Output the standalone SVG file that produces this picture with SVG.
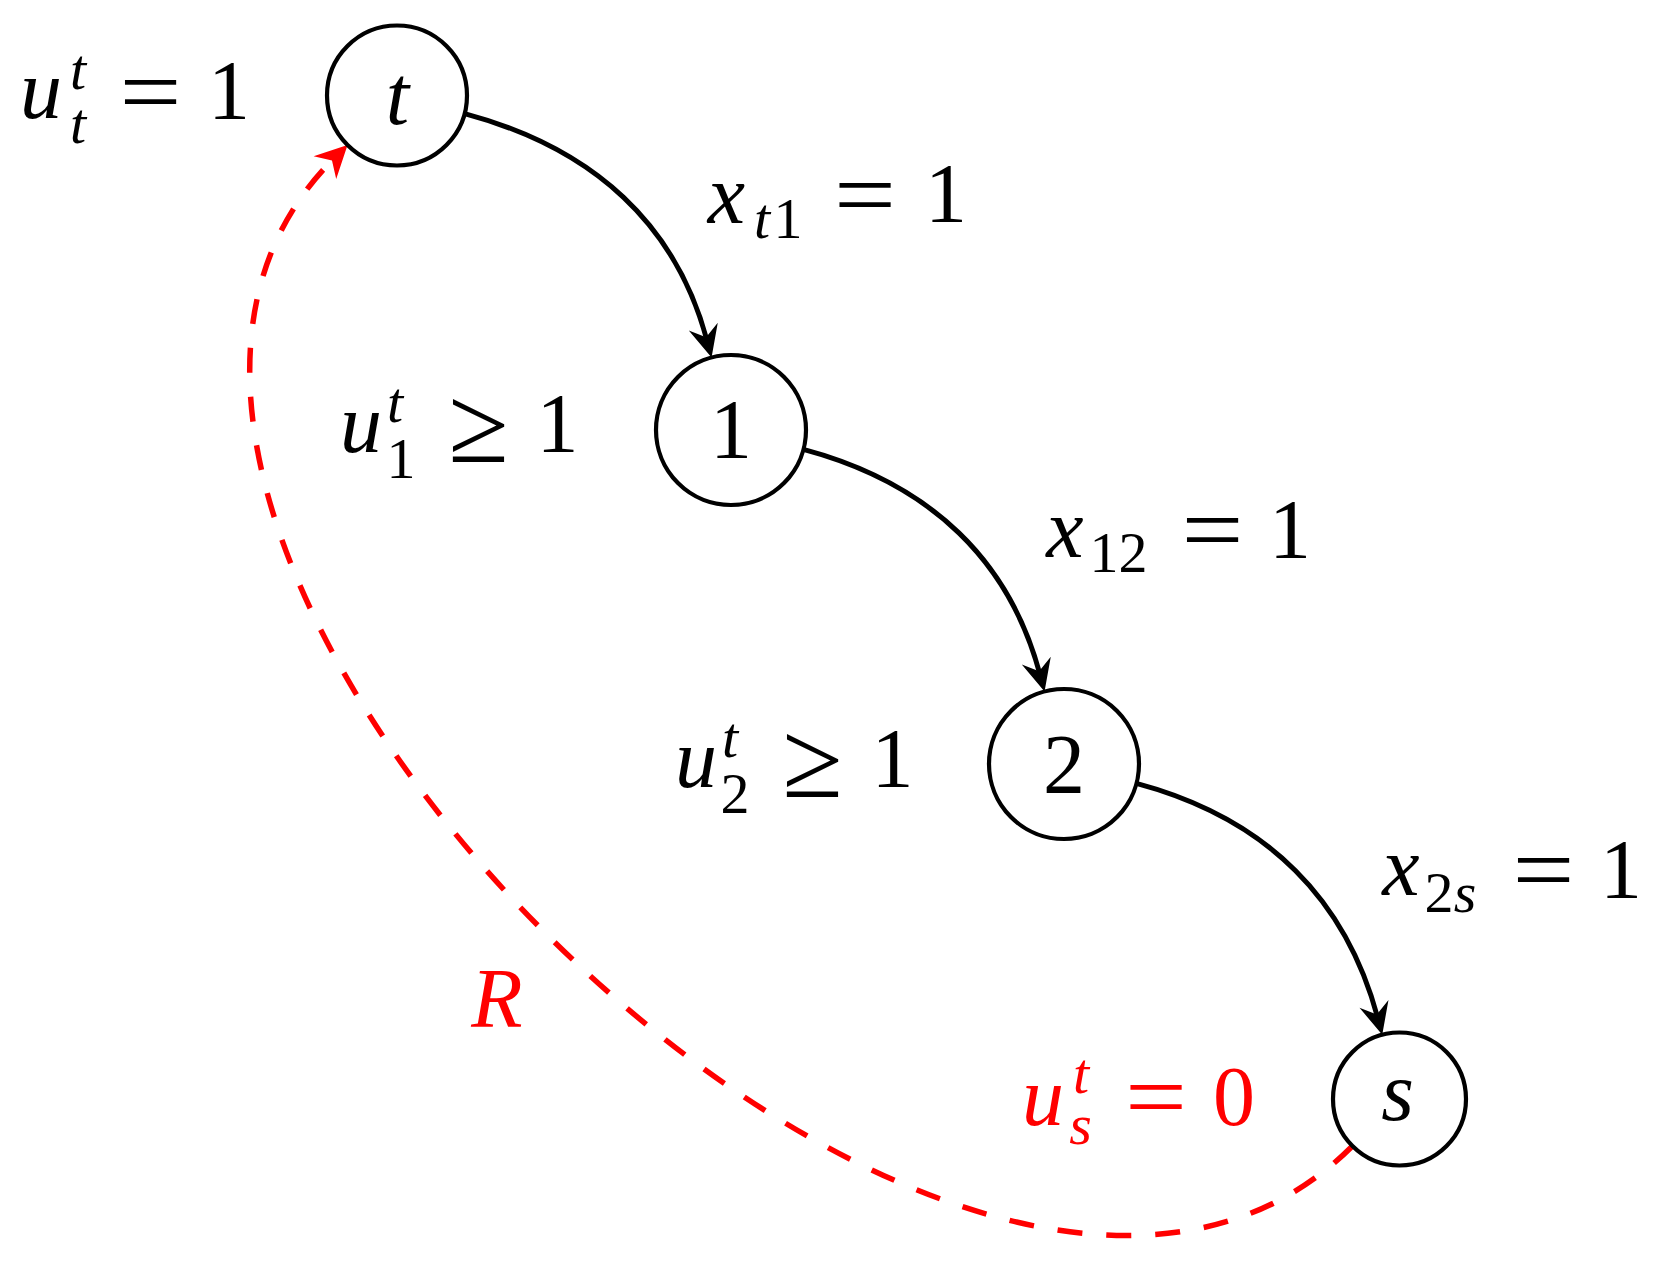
<svg xmlns="http://www.w3.org/2000/svg" width="1654" height="1265" viewBox="0 0 1654 1265">
<style>
text{font-family:"Liberation Serif","DejaVu Serif",serif;text-anchor:middle;fill:#000}
.i{font-style:italic}
.m{font-size:84px}
.s{font-size:58px}
.eq{font-size:96px}
.ge{font-size:110px}
.red{fill:#ff0000}
.node{fill:#fff;stroke:#000;stroke-width:4.2}
.edge{fill:none;stroke:#000;stroke-width:5}
.redge{fill:none;stroke:#ff0000;stroke-width:5.5;stroke-dasharray:25 24}
</style>
<defs>
<marker id="ab" markerUnits="userSpaceOnUse" viewBox="-34 -18 38 36" markerWidth="38" markerHeight="36" refX="-18" refY="0" orient="auto" overflow="visible">
<path d="M0 0 L-32 -15 L-21 0 L-32 15 Z" fill="#000"/>
</marker>
<marker id="ar" markerUnits="userSpaceOnUse" viewBox="-34 -18 38 36" markerWidth="38" markerHeight="36" refX="-20" refY="0" orient="auto" overflow="visible">
<path d="M0 0 L-32 -16 L-22 0 L-32 16 Z" fill="#ff0000"/>
</marker>
</defs>
<g id="connectors">
<path class="edge" d="M464.6 113.6 C595.9 148.8 676.4 226.3 706.9 340.2" marker-end="url(#ab)"/>
<path class="edge" d="M803.4 449.4 C932.6 484 1010 562.4 1039.9 674.2" marker-end="url(#ab)"/>
<path class="edge" d="M1136.4 783.4 C1269.4 819 1346.7 901.8 1377.6 1017.4" marker-end="url(#ab)"/>
<path class="redge" d="M1352.5 1146 C960 1538.5 -45 537 333.4 159.1" marker-end="url(#ar)"/>
</g>
<g id="node-t">
<circle class="node" cx="397" cy="95.5" r="70"/>
<text class="i m" x="397.5" y="124">t</text>
</g>
<g id="node-1">
<circle class="node" cx="731" cy="430" r="75"/>
<text class="m" x="731" y="458">1</text>
</g>
<g id="node-2">
<circle class="node" cx="1064" cy="764" r="75"/>
<text class="m" x="1064" y="793">2</text>
</g>
<g id="node-s">
<circle class="node" cx="1399.5" cy="1099" r="66.5"/>
<text class="i m" x="1397.5" y="1120">s</text>
</g>
<g id="label-ut">
<text class="i m" x="41" y="118">u</text>
<text class="i s" x="78" y="89">t</text>
<text class="i s" x="78" y="143">t</text>
<text class="eq" x="150.5" y="124" textLength="62" lengthAdjust="spacingAndGlyphs">=</text>
<text class="m" x="229" y="119">1</text>
</g>
<g id="label-u1">
<text class="i m" x="361" y="452">u</text>
<text class="i s" x="395" y="422">t</text>
<text class="s" x="401" y="478">1</text>
<text class="ge" x="478.5" y="462">≥</text>
<text class="m" x="557.5" y="452">1</text>
</g>
<g id="label-u2">
<text class="i m" x="696" y="787">u</text>
<text class="i s" x="730" y="757">t</text>
<text class="s" x="735" y="813">2</text>
<text class="ge" x="812.5" y="797">≥</text>
<text class="m" x="892.5" y="787">1</text>
</g>
<g id="label-us">
<text class="i m red" x="1043" y="1125">u</text>
<text class="i s red" x="1081" y="1093">t</text>
<text class="i s red" x="1080.5" y="1144">s</text>
<text class="eq red" x="1156" y="1129" textLength="62" lengthAdjust="spacingAndGlyphs">=</text>
<text class="m red" x="1234" y="1125">0</text>
</g>
<g id="label-xt1">
<text class="i m" x="726.5" y="223">x</text>
<text class="i s" x="762" y="238">t</text>
<text class="s" x="788" y="238">1</text>
<text class="eq" x="865" y="227" textLength="62" lengthAdjust="spacingAndGlyphs">=</text>
<text class="m" x="946" y="222">1</text>
</g>
<g id="label-x12">
<text class="i m" x="1065" y="557">x</text>
<text class="s" x="1118.5" y="572">12</text>
<text class="eq" x="1212.5" y="562" textLength="62" lengthAdjust="spacingAndGlyphs">=</text>
<text class="m" x="1290" y="558">1</text>
</g>
<g id="label-x2s">
<text class="i m" x="1401" y="895">x</text>
<text class="s" x="1439" y="912">2</text>
<text class="i s" x="1465" y="912">s</text>
<text class="eq" x="1543.5" y="902" textLength="62" lengthAdjust="spacingAndGlyphs">=</text>
<text class="m" x="1621" y="898">1</text>
</g>
<g id="label-R">
<text class="i m red" x="497" y="1027">R</text>
</g>
</svg>
